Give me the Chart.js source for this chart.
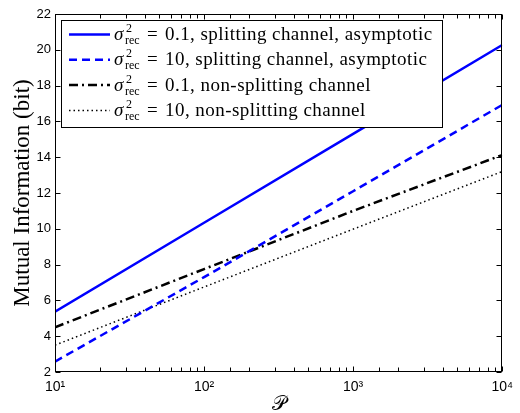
<!DOCTYPE html>
<html><head><meta charset="utf-8">
<script src="https://cdn.jsdelivr.net/npm/chart.js@4/dist/chart.umd.min.js"></script>
<style>html,body{margin:0;padding:0;background:#fff;}#wrap{width:520px;height:413px;position:relative;}</style>
</head><body><div id="wrap"><canvas id="c" width="520" height="413"></canvas></div>
<script>
// ---- data ----
const powerP = [10, 100, 1000, 10000];
const splitLowNoise = [5.37, 10.34, 15.30, 20.27];     // sigma^2_rec = 0.1, splitting, asymptotic
const splitHighNoise = [2.58, 7.30, 12.10, 16.92];     // sigma^2_rec = 10, splitting, asymptotic
const nonSplitLowNoise = [4.50, 7.75, 11.00, 14.12];   // sigma^2_rec = 0.1, non-splitting
const nonSplitHighNoise = [3.50, 6.75, 9.98, 13.20];   // sigma^2_rec = 10, non-splitting
const noiseValues = ['0.1', '10', '0.1', '10'];
const seriesDescriptions = ['splitting channel, asymptotic', 'splitting channel, asymptotic', 'non-splitting channel', 'non-splitting channel'];
const xTickLabels = ['10\u00B9', '10\u00B2', '10\u00B3', '10\u2074'];
const xDecades = [10, 100, 1000, 10000];
const yTickValues = [2, 4, 6, 8, 10, 12, 14, 16, 18, 20, 22];
const xTitle = '\uD835\uDCAB';
const yTitle = 'Mutual Information (bit)';

const styles = [
  {color: '#0000ff', width: 2.5, dash: []},
  {color: '#0000ff', width: 2.5, dash: [8, 5]},
  {color: '#000000', width: 2.5, dash: [9, 4, 2, 4]},
  {color: '#000000', width: 1.5, dash: [1.5, 3]}
];
const seriesValues = [splitLowNoise, splitHighNoise, nonSplitLowNoise, nonSplitHighNoise];

const datasets = seriesValues.map((vals, i) => ({
  label: 'σ²_rec = ' + noiseValues[i] + ', ' + seriesDescriptions[i],
  data: powerP.map((p, k) => ({x: p, y: vals[k]})),
  borderColor: styles[i].color,
  borderWidth: styles[i].width,
  borderDash: styles[i].dash,
  pointRadius: 0,
  fill: false,
  tension: 0
}));

const isDecade = v => Math.abs(Math.log10(v) - Math.round(Math.log10(v))) < 1e-9;

const frameTicks = {
  id: 'frameTicks',
  afterDatasetsDraw(chart) {
    const ctx = chart.ctx, a = chart.chartArea;
    const xs = chart.scales.x, ys = chart.scales.y;
    const L = Math.round(a.left) + 0.5, R = Math.round(a.right) - 0.5, T = Math.round(a.top) + 0.5, B = Math.round(a.bottom) - 0.5;
    ctx.save();
    ctx.strokeStyle = '#000'; ctx.lineWidth = 1; ctx.setLineDash([]);
    ctx.beginPath();
    xs.ticks.forEach(t => {
      const px = Math.round(xs.getPixelForValue(t.value)) + 0.5;
      const len = isDecade(t.value) ? 5 : 4;
      ctx.moveTo(px, B); ctx.lineTo(px, B - len);
      ctx.moveTo(px, T); ctx.lineTo(px, T + len);
    });
    yTickValues.forEach(v => {
      const py = Math.round(ys.getPixelForValue(v)) + 0.5;
      ctx.moveTo(L, py); ctx.lineTo(L + 5, py);
      ctx.moveTo(R, py); ctx.lineTo(R - 5, py);
    });
    ctx.stroke();
    ctx.strokeRect(L, T, R - L, B - T);
    ctx.restore();
  },
  afterDraw(chart) {
    const ctx = chart.ctx;
    ctx.save();
    const bx = 61.5, by = 20.5, bw = 381, bh = 107;
    ctx.fillStyle = '#fff'; ctx.fillRect(bx, by, bw, bh);
    ctx.strokeStyle = '#000'; ctx.lineWidth = 1; ctx.setLineDash([]);
    ctx.strokeRect(bx, by, bw, bh);
    ctx.fillStyle = '#000';
    ctx.textBaseline = 'alphabetic';
    for (let i = 0; i < 4; i++) {
      const base = 40 + i * 25.3;
      const ly = base - 5.5;
      ctx.save();
      ctx.strokeStyle = styles[i].color; ctx.lineWidth = styles[i].width; ctx.setLineDash(styles[i].dash);
      ctx.beginPath(); ctx.moveTo(69, ly); ctx.lineTo(110, ly); ctx.stroke();
      ctx.restore();
      ctx.font = 'italic 19px "Liberation Serif", serif';
      ctx.fillText('σ', 114, base);
      ctx.font = '12px "Liberation Serif", serif';
      ctx.fillText('2', 126, base - 8);
      ctx.fillText('rec', 125, base + 4);
      ctx.font = '19px "Liberation Serif", serif';
      ctx.fillText('=', 147, base);
      ctx.letterSpacing = '0.45px';
      ctx.fillText(noiseValues[i] + ', ' + seriesDescriptions[i], 165, base);
      ctx.letterSpacing = '0px';
    }
    ctx.restore();
  }
};

new Chart(document.getElementById('c'), {
  type: 'line',
  data: {datasets},
  options: {
    responsive: false, animation: false, devicePixelRatio: 1,
    layout: {padding: {left: 0, right: 10, top: 14, bottom: 0}},
    plugins: {legend: {display: false}, tooltip: {enabled: false}},
    scales: {
      x: {
        type: 'logarithmic', min: 10, max: 10000,
        grid: {display: false, drawTicks: false},
        border: {display: false},
        ticks: {
          autoSkip: false, maxRotation: 0, padding: 7, color: '#000',
          font: {family: '"Liberation Sans", Arial, sans-serif', size: 14},
          callback: v => { const i = xDecades.findIndex(d => Math.abs(d - v) < 1e-6 * d); return i >= 0 ? xTickLabels[i] : ''; }
        },
        title: {display: true, text: xTitle, color: '#000', font: {family: '"DejaVu Serif", serif', size: 20, lineHeight: 0.8}, padding: {top: 0, bottom: 0}},
        afterFit: s => { s.height = 41; }
      },
      y: {
        min: 2, max: 22,
        grid: {display: false, drawTicks: false},
        border: {display: false},
        ticks: {stepSize: 2, padding: 4, color: '#000', font: {family: '"Liberation Sans", Arial, sans-serif', size: 13}},
        title: {display: true, text: yTitle, color: '#000', font: {family: '"Liberation Serif", serif', size: 23, lineHeight: 1.1}, padding: {top: 10, bottom: 0}},
        afterFit: s => { s.width = 55; }
      }
    }
  },
  plugins: [frameTicks]
});
</script></body></html>
